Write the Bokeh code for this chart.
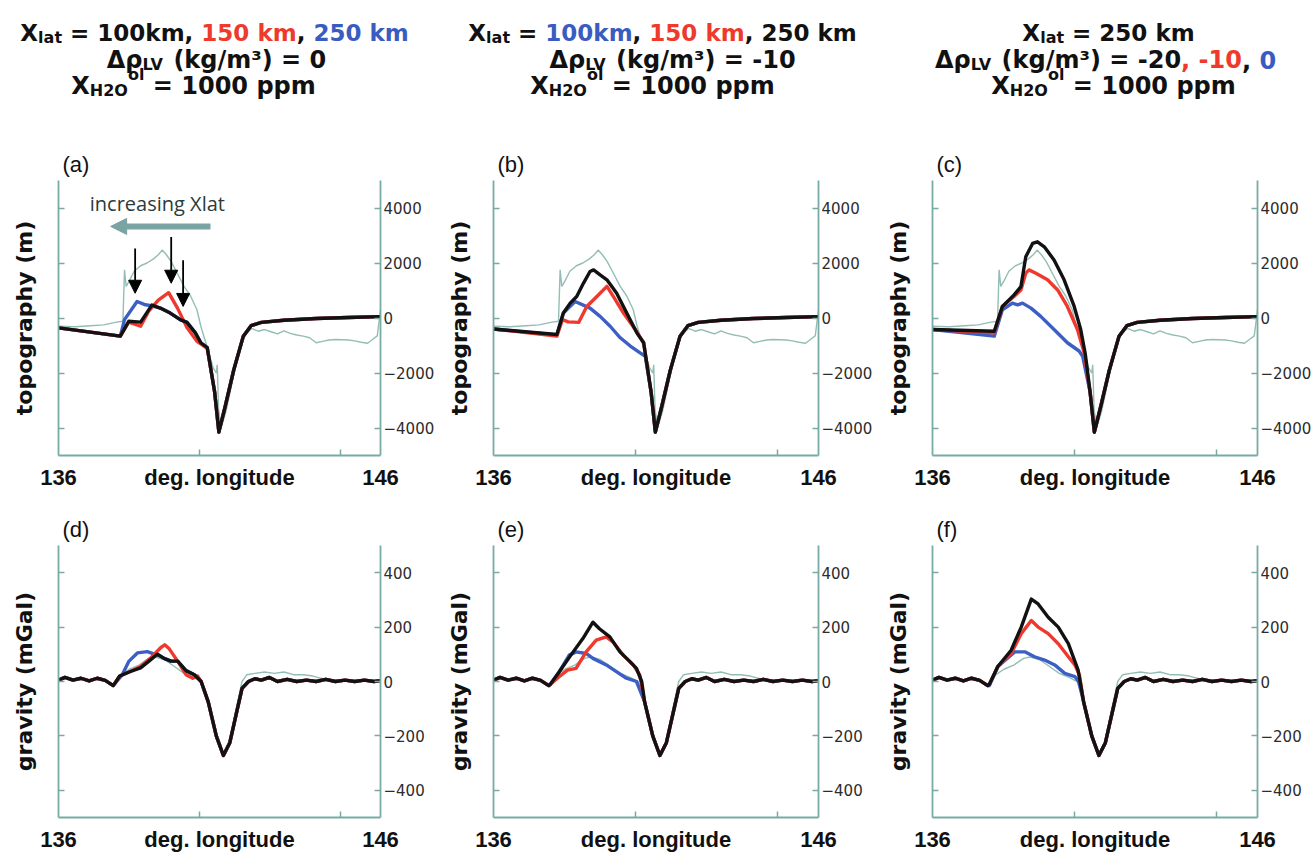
from bokeh.plotting import figure
from bokeh.models import Range1d, LinearAxis, FixedTicker, Arrow, NormalHead, Label, ColumnDataSource
from bokeh.layouts import column, row
from bokeh.embed import file_html
from bokeh.resources import INLINE
from bokeh.core.properties import value

# ---------------- data ----------------
X_TICKS = [136, 141, 146]
X_TICK_LABELS = ["136", "deg. longitude", "146"]
X_MINOR = [140.37, 144.75]
TOPO_TICKS = [-4000, -2000, 0, 2000, 4000]
GRAV_TICKS = [-400, -200, 0, 200, 400]

# observed topography (thin teal line, same in a-c)
TOPO_OBS_LON = [136.0, 136.5, 137.0, 137.4, 137.8, 138.0, 138.05, 138.1, 138.2, 138.35, 138.55, 138.75,
                138.95, 139.1, 139.22, 139.35, 139.5, 139.7, 139.9, 140.1, 140.3, 140.42, 140.6, 140.8,
                140.9, 140.93, 140.97, 141.05, 141.2, 141.4, 141.6, 141.8, 142.0, 142.2, 142.4, 142.6,
                142.8, 143.0, 143.2, 143.4, 143.6, 143.8, 144.0, 144.2, 144.4, 144.6, 144.8, 145.0,
                145.2, 145.4, 145.6, 145.75, 145.9, 146.0]
TOPO_OBS = [-300, -320, -280, -250, -150, -120, 1750, 1150, 1350, 1700, 1900, 2000,
            2150, 2300, 2470, 2300, 2050, 1600, 1150, 800, 300, -300, -1000, -1800,
            -2000, -1700, -3300, -4000, -3400, -2300, -1200, -600, -380, -480, -420, -500,
            -580, -470, -560, -620, -660, -720, -900, -850, -800, -780, -790, -800,
            -830, -880, -920, -780, -650, 300]

# shared trench part of the model topography
TRENCH_LON = [140.85, 140.98, 141.18, 141.44, 141.74, 141.98, 142.3, 143.0, 144.0, 145.0, 146.0]
TRENCH = [-2700, -4150, -3200, -1900, -660, -280, -160, -80, -20, 20, 50]

# (a) Xlat = 100 (black), 150 (red), 250 km (blue), drho = 0
A_BLACK_LON = [136.0, 137.92, 138.18, 138.55, 138.9, 139.16, 139.47, 139.78, 139.99, 140.25, 140.42, 140.62]
A_BLACK = [-360, -660, -120, -150, 470, 360, 180, -60, -160, -540, -900, -1080]
A_RED_LON = [136.0, 137.92, 138.18, 138.55, 138.8, 139.1, 139.42, 139.7, 139.99, 140.3, 140.62]
A_RED = [-360, -660, -150, -300, 250, 650, 920, 350, -350, -850, -1100]
A_BLUE_LON = [136.0, 137.92, 138.05, 138.44, 138.7, 138.92, 139.16, 139.47, 139.78, 139.99, 140.25, 140.42, 140.62]
A_BLUE = [-360, -660, -60, 600, 480, 440, 360, 180, -60, -160, -540, -900, -1080]

# (b) Xlat = 100 (blue), 150 (red), 250 km (black), drho = -10
B_BLACK_LON = [136.0, 137.95, 138.15, 138.36, 138.56, 138.77, 138.97, 139.08, 139.28, 139.49, 139.79, 140.1, 140.41, 140.62]
B_BLACK = [-400, -600, 180, 540, 780, 1270, 1690, 1750, 1570, 1390, 900, 180, -540, -900]
B_RED_LON = [136.0, 137.95, 138.12, 138.3, 138.62, 138.87, 139.18, 139.49, 139.69, 140.0, 140.36, 140.62]
B_RED = [-400, -660, -60, -140, -160, 420, 780, 1150, 780, 180, -420, -900]
B_BLUE_LON = [136.0, 137.95, 138.15, 138.51, 138.97, 139.28, 139.59, 139.9, 140.21, 140.51, 140.67]
B_BLUE = [-400, -620, 180, 600, 360, 60, -300, -720, -1020, -1270, -1390]

# (c) Xlat = 250 km, drho = -20 (black), -10 (red), 0 (blue)
C_BLACK_LON = [136.0, 137.9, 138.15, 138.51, 138.72, 138.87, 139.08, 139.23, 139.44, 139.74, 140.05, 140.36, 140.56, 140.7]
C_BLACK = [-420, -480, 420, 840, 1140, 2230, 2710, 2770, 2590, 2110, 1390, 420, -420, -1300]
C_RED_LON = [136.0, 137.9, 138.15, 138.51, 138.72, 138.87, 138.97, 139.18, 139.54, 139.85, 140.15, 140.46, 140.67]
C_RED = [-420, -540, 420, 780, 1020, 1630, 1750, 1630, 1390, 1020, 420, -420, -1270]
C_BLUE_LON = [136.0, 137.9, 138.15, 138.46, 138.62, 138.77, 139.03, 139.33, 139.74, 140.15, 140.51, 140.62]
C_BLUE = [-420, -660, 300, 540, 480, 540, 360, 60, -420, -900, -1200, -1390]

# gravity: shared fore-arc and ocean-side parts
GRAV_LEFT_LON = [136.0, 136.2, 136.45, 136.7, 136.95, 137.2, 137.45, 137.7]
GRAV_LEFT = [5, 15, 5, 12, 2, 12, 4, -15]
GRAV_RIGHT_LON = [140.65, 140.9, 141.12, 141.32, 141.5, 141.7, 141.9, 142.1, 142.3, 142.55, 142.8, 143.1,
                  143.4, 143.7, 144.0, 144.3, 144.6, 144.9, 145.2, 145.5, 145.8, 146.0]
GRAV_RIGHT = [-75, -200, -272, -225, -130, -25, 0, 10, 5, 15, 0, 8, 0, 5, 0, 8, 0, 5, 0, 5, 0, 3]

GRAV_OBS_MID_LON = [137.95, 138.2, 138.5, 138.8, 139.0, 139.3, 139.6, 139.9, 140.2, 140.45]
GRAV_OBS_MID = [25, 45, 60, 85, 90, 80, 55, 30, 15, 0]
GRAV_OBS_RIGHT_LON = [140.65, 140.9, 141.12, 141.32, 141.5, 141.7, 141.85, 142.1, 142.4, 142.7, 143.0,
                      143.3, 143.6, 143.9, 144.2, 144.6, 145.0, 145.5, 146.0]
GRAV_OBS_RIGHT = [-75, -200, -272, -220, -110, 0, 25, 30, 35, 30, 35, 25, 25, 20, 10, 5, 0, 5, 0]

D_BLACK_LON = [137.9, 138.19, 138.55, 138.81, 139.07, 139.28, 139.49, 139.7, 139.96, 140.22, 140.43]
D_BLACK = [20, 35, 50, 75, 100, 85, 75, 75, 40, 25, 0]
D_RED_LON = [137.9, 138.2, 138.55, 138.85, 139.18, 139.3, 139.44, 139.7, 139.96, 140.17, 140.32, 140.43]
D_RED = [20, 35, 55, 85, 125, 135, 120, 75, 25, 12, 20, 0]
D_BLUE_LON = [137.98, 138.19, 138.45, 138.76, 139.0, 139.07, 139.28, 139.49, 139.7, 139.96, 140.22, 140.43]
D_BLUE = [25, 75, 105, 110, 100, 100, 85, 75, 75, 40, 25, 0]

E_BLACK_LON = [137.75, 138.02, 138.38, 138.75, 139.06, 139.26, 139.58, 139.89, 140.2, 140.4, 140.56]
E_BLACK = [-10, 35, 97, 158, 218, 194, 164, 109, 73, 48, 0]
E_RED_LON = [137.75, 138.02, 138.28, 138.54, 138.85, 139.16, 139.47, 139.68, 139.99, 140.3, 140.5]
E_RED = [-10, 18, 42, 48, 109, 152, 164, 145, 97, 61, 24]
E_BLUE_LON = [137.75, 138.02, 138.33, 138.54, 138.85, 139.06, 139.47, 139.78, 140.09, 140.4]
E_BLUE = [-10, 35, 97, 109, 103, 85, 61, 36, 12, 0]

F_BLACK_LON = [137.75, 138.01, 138.42, 138.73, 139.04, 139.25, 139.56, 139.87, 140.18, 140.48]
F_BLACK = [-10, 55, 115, 200, 303, 285, 236, 200, 139, 42]
F_RED_LON = [137.75, 138.01, 138.42, 138.73, 139.04, 139.25, 139.56, 139.87, 140.18, 140.38, 140.52]
F_RED = [-10, 55, 103, 176, 224, 200, 176, 139, 91, 61, 24]
F_BLUE_LON = [137.75, 138.01, 138.53, 138.84, 139.14, 139.45, 139.76, 140.07, 140.38, 140.5]
F_BLUE = [-15, 55, 109, 109, 91, 79, 61, 30, 18, 0]

# annotation in (a)
ARROW_LON = [138.38, 139.50, 139.87]
ARROW_TOP = [2530, 2950, 2100]
ARROW_TIP = [900, 1265, 420]

# header texts: (text, size key, colour key, vertical shift)
HEAD = [
    [
        [("X", "L", "k", 0), ("lat", "S", "k", 5), (" = 100km, ", "L", "k", 0), ("150 km", "L", "r", 0),
         (", ", "L", "k", 0), ("250 km", "L", "b", 0)],
        [("Δρ", "M", "k", 0), ("LV", "S", "k", 5), (" (kg/m³) = 0", "M", "k", 0)],
        [("X", "M", "k", 0), ("H2O", "S", "k", 5), ("ol", "S", "k", -11), (" = 1000 ppm", "M", "k", 0)],
    ],
    [
        [("X", "L", "k", 0), ("lat", "S", "k", 5), (" = ", "L", "k", 0), ("100km", "L", "b", 0),
         (", ", "L", "k", 0), ("150 km", "L", "r", 0), (", 250 km", "L", "k", 0)],
        [("Δρ", "M", "k", 0), ("LV", "S", "k", 5), (" (kg/m³) = -10", "M", "k", 0)],
        [("X", "M", "k", 0), ("H2O", "S", "k", 5), ("ol", "S", "k", -11), (" = 1000 ppm", "M", "k", 0)],
    ],
    [
        [("X", "L", "k", 0), ("lat", "S", "k", 5), (" = 250 km", "L", "k", 0)],
        [("Δρ", "M", "k", 0), ("LV", "S", "k", 5), (" (kg/m³) = -20", "M", "k", 0), (", -10", "M", "r", 0),
         (", ", "M", "k", 0), ("0", "M", "b", 0)],
        [("X", "M", "k", 0), ("H2O", "S", "k", 5), ("ol", "S", "k", -11), (" = 1000 ppm", "M", "k", 0)],
    ],
]
HEAD_CENTERS = [[214, 216, 193], [662, 672, 652], [1108, 1105, 1113]]
HEAD_BASELINES = [32, 59, 85]

# ---------------- style ----------------
AXIS_COLOR = "#79aba5"
OBS_COLOR = "#94bdb5"
BLUE = "#3c5fc6"
RED = "#f0392e"
BLACK = "#121212"
COLORS = {"k": "#111111", "r": "#ee3a2c", "b": "#3a5cc0"}
SIZES = {"L": 23, "M": 24, "S": 16}
W = {' ': 0.348, '(': 0.457, ')': 0.457, ',': 0.380, '-': 0.415, '.': 0.380, '/': 0.365, '=': 0.838,
     'H': 0.837, 'L': 0.637, 'O': 0.850, 'V': 0.774, 'X': 0.774, 'a': 0.675, 'g': 0.716, 'k': 0.665,
     'l': 0.343, 'm': 1.042, 'o': 0.687, 'p': 0.716, 't': 0.478, 'Δ': 0.774, 'ρ': 0.716, '³': 0.438}
for d in "0123456789":
    W[d] = 0.696

FRAME_LEFT = [58, 53, 52]
FRAME_W = [322, 325, 325]
FIG_W = [440, 440, 436]


def text_width(s, size):
    return sum(W.get(ch, 0.65) for ch in s) * size


# ---------------- header ----------------
hdr = figure(frame_width=1316, frame_height=120, x_range=Range1d(0, 1316), y_range=Range1d(120, 0),
             output_backend="svg", toolbar_location=None, min_border=0,
             x_axis_location=None, y_axis_location=None)
hdr.grid.visible = False
hdr.outline_line_color = None
hx, hy, ht, hs, hc = [], [], [], [], []
for ci, panel in enumerate(HEAD):
    for li, line in enumerate(panel):
        total = sum(text_width(t, SIZES[s]) for t, s, c, dy in line)
        x = HEAD_CENTERS[ci][li] - total / 2
        for t, s, c, dy in line:
            lead = len(t) - len(t.lstrip(" "))
            hx.append(x + text_width(" " * lead, SIZES[s]))
            hy.append(HEAD_BASELINES[li] + dy)
            ht.append(t.strip(" "))
            hs.append(f"{SIZES[s]}px")
            hc.append(COLORS[c])
            x += text_width(t, SIZES[s])
hsrc = ColumnDataSource(dict(x=hx, y=hy, text=ht, size=hs, color=hc))
hdr.text(x="x", y="y", text="text", text_font_size="size", text_color="color",
         text_font=value("DejaVu Sans"), text_font_style="bold", text_baseline="alphabetic",
         text_align="left", source=hsrc)


# ---------------- panels ----------------
def make_panel(col, label, ylabel, yr, yticks, border_top, frame_h, border_bottom):
    p = figure(frame_width=FRAME_W[col], frame_height=frame_h,
               x_range=Range1d(136, 146), y_range=Range1d(-yr, yr),
               output_backend="svg", toolbar_location=None, title=label,
               min_border_left=FRAME_LEFT[col],
               min_border_right=FIG_W[col] - FRAME_LEFT[col] - FRAME_W[col],
               min_border_top=border_top, min_border_bottom=border_bottom)
    p.outline_line_color = None
    p.grid.visible = False
    p.title.text_font = "Liberation Sans"
    p.title.text_font_size = "22px"
    p.title.text_font_style = "normal"
    p.title.text_color = "#111111"
    p.title.align = "left"
    p.title.offset = 4
    p.title.standoff = 8

    xa = p.xaxis[0]
    xa.ticker = FixedTicker(ticks=X_TICKS, minor_ticks=X_MINOR)
    xa.major_label_overrides = {t: l for t, l in zip(X_TICKS, X_TICK_LABELS)}
    xa.major_tick_in = 0
    xa.major_tick_out = 0
    xa.minor_tick_in = 6
    xa.minor_tick_out = 0
    xa.minor_tick_line_color = AXIS_COLOR
    xa.minor_tick_line_width = 1.5
    xa.axis_line_color = AXIS_COLOR
    xa.axis_line_width = 1.8
    xa.major_label_text_font = "Liberation Sans"
    xa.major_label_text_font_style = "bold"
    xa.major_label_text_font_size = "22px"
    xa.major_label_text_color = "#111111"
    xa.major_label_standoff = 9

    ya = p.yaxis[0]
    ya.ticker = FixedTicker(ticks=yticks)
    ya.major_label_overrides = {t: "" for t in yticks}
    ya.major_tick_in = 6
    ya.major_tick_out = 0
    ya.minor_tick_in = 0
    ya.minor_tick_out = 0
    ya.major_tick_line_color = AXIS_COLOR
    ya.major_tick_line_width = 1.5
    ya.axis_line_color = AXIS_COLOR
    ya.axis_line_width = 1.8
    ya.major_label_standoff = 0
    ya.axis_label = ylabel
    ya.axis_label_text_font = "DejaVu Sans"
    ya.axis_label_text_font_style = "bold"
    ya.axis_label_text_font_size = "22px"
    ya.axis_label_text_color = "#111111"
    ya.axis_label_standoff = 22

    ra = LinearAxis(ticker=FixedTicker(ticks=yticks))
    ra.major_tick_in = 6
    ra.major_tick_out = 0
    ra.minor_tick_in = 0
    ra.minor_tick_out = 0
    ra.major_tick_line_color = AXIS_COLOR
    ra.major_tick_line_width = 1.5
    ra.axis_line_color = AXIS_COLOR
    ra.axis_line_width = 1.8
    ra.major_label_standoff = 3
    ra.major_label_text_font = "DejaVu Sans"
    ra.major_label_text_font_size = "15px"
    ra.major_label_text_color = "#2c2c2c"
    p.add_layout(ra, "right")
    return p


def draw(p, obs_lon, obs, series):
    p.line(obs_lon, obs, line_color=OBS_COLOR, line_width=1.4)
    for lon, vals, color in series:
        p.line(lon, vals, line_color=color, line_width=3.4, line_join="round")


panels_top = []
topo_series = [
    [(A_BLUE_LON + TRENCH_LON, A_BLUE + TRENCH, BLUE), (A_RED_LON + TRENCH_LON, A_RED + TRENCH, RED),
     (A_BLACK_LON + TRENCH_LON, A_BLACK + TRENCH, BLACK)],
    [(B_BLUE_LON + TRENCH_LON, B_BLUE + TRENCH, BLUE), (B_RED_LON + TRENCH_LON, B_RED + TRENCH, RED),
     (B_BLACK_LON + TRENCH_LON, B_BLACK + TRENCH, BLACK)],
    [(C_BLUE_LON + TRENCH_LON, C_BLUE + TRENCH, BLUE), (C_RED_LON + TRENCH_LON, C_RED + TRENCH, RED),
     (C_BLACK_LON + TRENCH_LON, C_BLACK + TRENCH, BLACK)],
]
for i, lab in enumerate(["(a)", "(b)", "(c)"]):
    p = make_panel(i, lab, "topography (m)", 5000, TOPO_TICKS, 60, 275, 45)
    draw(p, TOPO_OBS_LON, TOPO_OBS, topo_series[i])
    panels_top.append(p)

# annotations in (a)
pa = panels_top[0]
pa.add_layout(Arrow(end=NormalHead(size=16, fill_color="#7ba3a3", line_color="#7ba3a3"),
                    x_start=140.72, y_start=3330, x_end=137.62, y_end=3330,
                    line_color="#7ba3a3", line_width=6))
pa.add_layout(Label(x=139.07, y=4150, text="increasing Xlat", text_align="center", text_baseline="middle",
                    text_font="Open Sans", text_font_size="20px", text_color="#2a3b3b"))
for lon, top, tip in zip(ARROW_LON, ARROW_TOP, ARROW_TIP):
    pa.add_layout(Arrow(end=NormalHead(size=13, fill_color="black", line_color="black"),
                        x_start=lon, y_start=top, x_end=lon, y_end=tip,
                        line_color="black", line_width=1.8))

panels_bot = []
grav_series = [
    [(D_BLUE_LON, D_BLUE), (D_RED_LON, D_RED), (D_BLACK_LON, D_BLACK)],
    [(E_BLUE_LON, E_BLUE), (E_RED_LON, E_RED), (E_BLACK_LON, E_BLACK)],
    [(F_BLUE_LON, F_BLUE), (F_RED_LON, F_RED), (F_BLACK_LON, F_BLACK)],
]
gobs_lon = GRAV_LEFT_LON + GRAV_OBS_MID_LON + GRAV_OBS_RIGHT_LON
gobs = GRAV_LEFT + GRAV_OBS_MID + GRAV_OBS_RIGHT
for i, lab in enumerate(["(d)", "(e)", "(f)"]):
    p = make_panel(i, lab, "gravity (mGal)", 500, GRAV_TICKS, 45, 272, 39)
    ser = [(GRAV_LEFT_LON + lon + GRAV_RIGHT_LON, GRAV_LEFT + vals + GRAV_RIGHT, c)
           for (lon, vals), c in zip(grav_series[i], [BLUE, RED, BLACK])]
    draw(p, gobs_lon, gobs, ser)
    panels_bot.append(p)

layout = column(hdr, row(*panels_top, spacing=0), row(*panels_bot, spacing=0), spacing=0)
open("out.html", "w").write(file_html(layout, INLINE))
